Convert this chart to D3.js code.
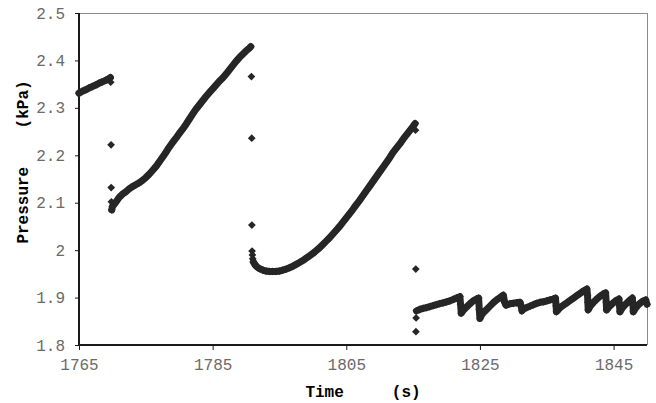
<!DOCTYPE html>
<html>
<head>
<meta charset="utf-8">
<script src="https://cdn.jsdelivr.net/npm/d3@7"></script>
<style>
  body { margin: 0; background: #fff; }
  svg { display: block; }
</style>
</head>
<body>
<svg id="chart" width="656" height="403"></svg>
<script>
// pressure readings [time (s), pressure (kPa)]
var ramp1 = [
  [1765.0, 2.331], [1765.5, 2.335], [1766.0, 2.338], [1766.5, 2.342], [1767.0, 2.345],
  [1767.5, 2.348], [1768.0, 2.352], [1768.5, 2.355], [1769.0, 2.358], [1769.5, 2.362],
  [1769.7, 2.364]
];
var drop1 = [[1769.75, 2.354], [1769.8, 2.222], [1769.82, 2.132], [1769.85, 2.102]];
var ramp2 = [
  [1769.9, 2.085], [1770.0, 2.092], [1770.5, 2.101], [1771.0, 2.111], [1771.5, 2.118],
  [1772.0, 2.123], [1772.5, 2.129], [1773.0, 2.134], [1773.5, 2.138], [1774.0, 2.142],
  [1774.5, 2.147], [1775.0, 2.153], [1775.5, 2.160], [1776.0, 2.168], [1776.5, 2.176],
  [1777.0, 2.186], [1777.5, 2.196], [1778.0, 2.206], [1778.5, 2.217], [1779.0, 2.227],
  [1779.5, 2.236], [1780.0, 2.246], [1780.5, 2.255], [1781.0, 2.265], [1781.5, 2.276],
  [1782.0, 2.287], [1782.5, 2.297], [1783.0, 2.306], [1783.5, 2.315], [1784.0, 2.324],
  [1784.5, 2.332], [1785.0, 2.340], [1785.5, 2.348], [1786.0, 2.356], [1786.5, 2.363],
  [1787.0, 2.371], [1787.5, 2.380], [1788.0, 2.389], [1788.5, 2.398], [1789.0, 2.406],
  [1789.5, 2.413], [1790.0, 2.420], [1790.5, 2.426], [1790.7, 2.429]
];
var drop2 = [
  [1790.8, 2.366], [1790.85, 2.236], [1790.87, 2.053], [1790.9, 1.998],
  [1790.95, 1.990], [1791.0, 1.982], [1791.1, 1.975]
];
var ramp3 = [
  [1791.1, 1.975], [1791.3, 1.970], [1791.6, 1.965], [1792.0, 1.961], [1792.5, 1.958], [1793.0, 1.956],
  [1793.5, 1.955], [1794.0, 1.955], [1794.5, 1.955], [1795.0, 1.956], [1795.5, 1.958],
  [1796.0, 1.960], [1796.5, 1.963], [1797.0, 1.966], [1797.5, 1.970], [1798.0, 1.974],
  [1798.5, 1.978], [1799.0, 1.983], [1799.5, 1.988], [1800.0, 1.993], [1800.5, 1.999],
  [1801.0, 2.005], [1801.5, 2.012], [1802.0, 2.019], [1802.5, 2.026], [1803.0, 2.034],
  [1803.5, 2.042], [1804.0, 2.050], [1804.5, 2.059], [1805.0, 2.068], [1805.5, 2.077],
  [1806.0, 2.086], [1806.5, 2.096], [1807.0, 2.105], [1807.5, 2.115], [1808.0, 2.125],
  [1808.5, 2.135], [1809.0, 2.145], [1809.5, 2.155], [1810.0, 2.165], [1810.5, 2.175],
  [1811.0, 2.185], [1811.5, 2.195], [1812.0, 2.206], [1812.5, 2.215], [1813.0, 2.224],
  [1813.5, 2.234], [1814.0, 2.243], [1814.5, 2.252], [1815.0, 2.261], [1815.3, 2.267]
];
var drop3 = [[1815.35, 2.253], [1815.4, 1.960], [1815.42, 1.828], [1815.45, 1.857]];
var sawtooth = [
  [1815.5, 1.872], [1816.0, 1.875], [1816.5, 1.877], [1817.0, 1.879], [1817.5, 1.881],
  [1818.0, 1.883], [1818.5, 1.885], [1819.0, 1.887], [1819.5, 1.889], [1820.0, 1.891],
  [1820.5, 1.893], [1821.0, 1.896], [1821.5, 1.899], [1822.0, 1.902],
  [1822.1, 1.886], [1822.2, 1.867],
  [1822.5, 1.873], [1823.0, 1.880], [1823.5, 1.887], [1824.0, 1.893], [1824.5, 1.897],
  [1824.8, 1.899], [1824.9, 1.875], [1825.0, 1.856],
  [1825.2, 1.862], [1825.5, 1.868], [1826.0, 1.875], [1826.5, 1.882], [1827.0, 1.889],
  [1827.5, 1.895], [1828.0, 1.900], [1828.5, 1.905], [1828.7, 1.890], [1828.9, 1.884],
  [1829.5, 1.887], [1830.0, 1.888], [1830.5, 1.889], [1831.0, 1.890],
  [1831.2, 1.880], [1831.3, 1.872],
  [1831.5, 1.876], [1832.0, 1.879], [1832.5, 1.882], [1833.0, 1.885], [1833.5, 1.888],
  [1834.0, 1.890], [1834.5, 1.891], [1835.0, 1.893], [1835.5, 1.895], [1836.0, 1.897],
  [1836.3, 1.899], [1836.4, 1.882], [1836.45, 1.870],
  [1836.7, 1.874], [1837.0, 1.879], [1837.5, 1.884], [1838.0, 1.889], [1838.5, 1.894],
  [1839.0, 1.899], [1839.5, 1.904], [1840.0, 1.909], [1840.5, 1.914], [1841.0, 1.918],
  [1841.1, 1.905], [1841.15, 1.890], [1841.2, 1.874],
  [1841.5, 1.882], [1842.0, 1.890], [1842.5, 1.897], [1843.0, 1.903], [1843.5, 1.908],
  [1843.8, 1.910], [1843.9, 1.890], [1843.95, 1.874],
  [1844.3, 1.880], [1844.8, 1.887], [1845.3, 1.893], [1845.8, 1.897],
  [1845.9, 1.882], [1845.95, 1.870],
  [1846.3, 1.878], [1846.8, 1.886], [1847.3, 1.893], [1847.8, 1.899],
  [1847.9, 1.884], [1847.95, 1.870],
  [1848.3, 1.878], [1848.8, 1.886], [1849.3, 1.892], [1849.8, 1.895], [1850.0, 1.886]
];

var xTicks = [1765, 1785, 1805, 1825, 1845];
var yTicks = [1.8, 1.9, 2.0, 2.1, 2.2, 2.3, 2.4, 2.5];

var allPoints = [].concat(ramp1, drop1, ramp2, drop2, ramp3, drop3, sawtooth);
var runs = [ramp1, ramp2, ramp3, sawtooth];

var svg = d3.select('#chart');

var plotLeft = 79, plotRight = 647, plotTop = 13, plotBottom = 345;
var ink = '#262626';

var x = d3.scaleLinear()
  .domain([1765, 1850])
  .range([plotLeft, plotRight]);

var y = d3.scaleLinear()
  .domain([1.8, 2.5])
  .range([plotBottom, plotTop]);

// grey frame on top and right
svg.append('line')
  .attr('x1', plotLeft).attr('x2', plotRight)
  .attr('y1', plotTop + 0.5).attr('y2', plotTop + 0.5)
  .attr('stroke', '#8c8c8c').attr('stroke-width', 1);
svg.append('line')
  .attr('x1', plotRight + 0.5).attr('x2', plotRight + 0.5)
  .attr('y1', plotTop).attr('y2', plotBottom)
  .attr('stroke', '#8c8c8c').attr('stroke-width', 1);

var fmt = function(d) { return String(+d.toFixed(1)); };

var xAxis = d3.axisBottom(x)
  .tickValues(xTicks)
  .tickSize(5)
  .tickPadding(9)
  .tickFormat(d3.format('d'));

var yAxis = d3.axisLeft(y)
  .tickValues(yTicks)
  .tickSize(4)
  .tickPadding(10)
  .tickFormat(fmt);

var gx = svg.append('g')
  .attr('transform', 'translate(0,' + plotBottom + ')')
  .call(xAxis);

var gy = svg.append('g')
  .attr('transform', 'translate(' + plotLeft + ',0)')
  .call(yAxis);

[gx, gy].forEach(function(g) {
  g.select('.domain').attr('stroke', '#1a1a1a').attr('stroke-width', 2);
  g.selectAll('.tick line').attr('stroke', '#1a1a1a').attr('stroke-width', 1);
  g.selectAll('.tick text')
    .attr('fill', '#6a6a6a')
    .style('font-family', '"Liberation Mono", "DejaVu Sans Mono", monospace')
    .style('font-size', '16px');
});
gx.select('.domain').attr('d', 'M' + plotLeft + ',0H' + plotRight);
gy.select('.domain').attr('d', 'M0,' + plotTop + 'V' + plotBottom);

// the samples are so dense that they merge into a thick band
var band = d3.line()
  .x(function(d) { return x(d[0]); })
  .y(function(d) { return y(d[1]); });

svg.append('g')
  .selectAll('path')
  .data(runs)
  .join('path')
    .attr('d', band)
    .attr('fill', 'none')
    .attr('stroke', ink)
    .attr('stroke-width', 7)
    .attr('stroke-linejoin', 'round')
    .attr('stroke-linecap', 'round');

// markers
var diamond = d3.symbol().type(d3.symbolSquare).size(30);

svg.append('g')
  .selectAll('path')
  .data(allPoints)
  .join('path')
    .attr('d', diamond)
    .attr('transform', function(d) {
      return 'translate(' + x(d[0]) + ',' + y(d[1]) + ') rotate(45)';
    })
    .attr('fill', ink);

// axis titles
svg.append('text')
  .attr('x', (plotLeft + plotRight) / 2)
  .attr('y', 397)
  .attr('text-anchor', 'middle')
  .style('font-family', '"Liberation Mono", "DejaVu Sans Mono", monospace')
  .style('font-size', '16px')
  .style('font-weight', 'bold')
  .style('white-space', 'pre')
  .text('Time     (s)');

svg.append('text')
  .attr('transform', 'translate(28,162) rotate(-90)')
  .attr('text-anchor', 'middle')
  .style('font-family', '"Liberation Mono", "DejaVu Sans Mono", monospace')
  .style('font-size', '16px')
  .style('font-weight', 'bold')
  .style('white-space', 'pre')
  .text('Pressure    (kPa)');
</script>
</body>
</html>
